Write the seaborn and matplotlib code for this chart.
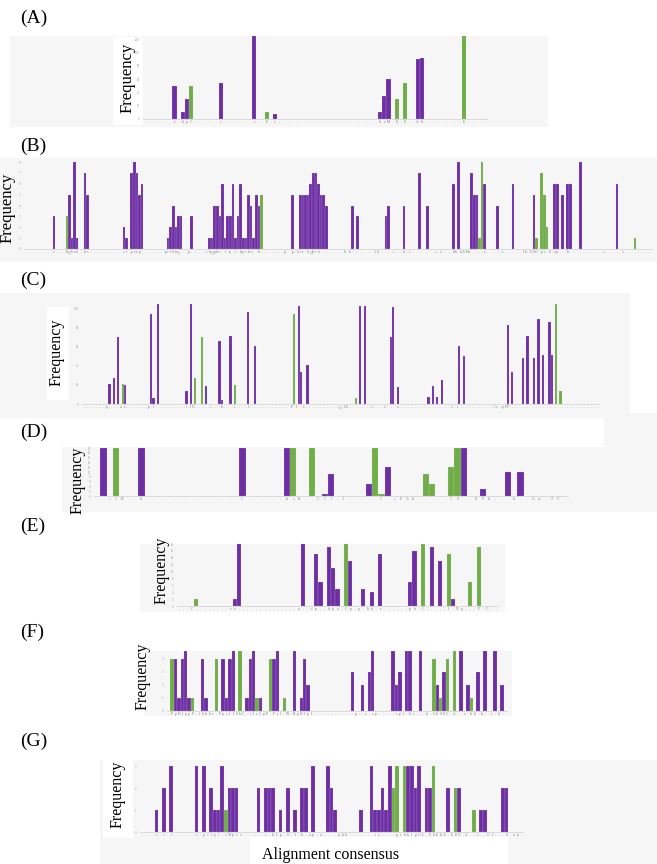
import matplotlib
matplotlib.use('Agg')
import pandas as pd
import matplotlib.pyplot as plt
from matplotlib.patches import Rectangle
import seaborn as sns

PURPLE = '#6d2ea3'
GREEN = '#70ad47'
GRAY = '#f6f6f6'
W, H = 657, 864

# (A)
a_n = 82
a_pos = [7, 9, 10, 11, 18, 26, 29, 31, 56, 57, 58, 60, 62, 65, 66, 76]
a_val = [50, 10, 30, 50, 54, 124, 10, 7, 10, 35, 60, 30, 54, 90, 91, 124]
a_green = [11, 29, 60, 62, 76]
a_consensus = '.......v.hpC......s.......s..E.v........................hsM.E.E..Ah.........E.....'

# (B)
b_n = 242
b_pos = [11, 16, 17, 18, 19, 20, 23, 24, 38, 39, 41, 42, 43, 44, 45,
         55, 56, 57, 58, 59, 60, 64,
         71, 72, 73, 74, 75, 76, 77, 78, 79, 80, 81, 82, 83, 84, 85, 86, 87, 88, 89, 90, 91,
         103, 106, 107, 108, 109, 110, 111, 112, 113, 114, 115, 116,
         126, 128, 139, 140, 146, 152, 155, 165, 167, 172, 173, 174, 175, 176, 177,
         182, 188, 196, 197, 199, 200, 201, 204, 205, 207, 209, 210, 214, 228, 235]
b_val = [3, 3, 5, 1, 8, 1, 7, 5, 2, 1, 7, 8, 7, 5, 6,
         1, 2, 4, 2, 3, 3, 3,
         1, 1, 4, 4, 3, 6, 1, 3, 3, 6, 1, 3, 6, 1, 1, 5, 4, 1, 5, 4, 5,
         5, 5, 5, 5, 5, 6, 7, 7, 6, 5, 5, 4,
         4, 3, 3, 4, 4, 7, 4, 6, 8, 7, 5, 5, 1, 8, 6,
         4, 6, 5, 1, 7, 5, 2, 6, 6, 5, 6, 6, 8, 6, 1]
b_green = [16, 91, 175, 176, 197, 199, 200, 201, 235]
b_consensus = ('...........c....hQhsh..hs.............sl.pssp.........pclhhQ...p......'
               'shQpht.l.p.l.hpshs..h.........p..p.hss.hQhth.........h.h.........lh...'
               '..s...h.s.........s.s....hh.hhhh.....s......s.......lh.GGG.ps.h.sp...h.'
               '............s......s')

# (C)
c_n = 235
c_pos = [12, 14, 16, 18, 19, 31, 32, 34, 47, 49, 51, 54, 56, 62, 63, 67, 69, 75, 78,
         96, 98, 99, 102, 124, 126, 128, 140, 141, 143, 157, 159, 161, 163, 171, 173,
         193, 195, 200, 202, 205, 207, 209, 212, 213, 215, 217]
c_val = [21, 27, 70, 21, 20, 95, 6, 105, 14, 105, 27, 70, 19, 66, 4, 72, 20, 97, 61,
         95, 103, 34, 41, 6, 103, 103, 70, 102, 18, 7, 19, 7, 25, 61, 50,
         83, 34, 48, 72, 48, 89, 52, 86, 52, 105, 14]
c_green = [18, 51, 54, 69, 96, 124, 215, 217]
c_consensus = ('...........p.....a.s..........p.l..............l.lD.......s....h.....t.....'
               'l...................P.l..s................Q.lh..........s.....v.....a.....'
               '...................t.t................ls..pPP......')

# (D)
d_n = 75
d_pos = [1, 3, 7, 23, 30, 31, 34, 36, 37, 43, 44, 45, 46, 52, 53, 56, 57, 58, 61, 65, 67]
d_val = [20, 20, 20, 20, 20, 20, 20, 1, 9, 5, 20, 1, 12, 9, 5, 12, 20, 20, 3, 10, 10]
d_green = [3, 31, 34, 44, 45, 52, 53, 56, 57]
d_consensus = '..cCH..h...............C......hsK..CCl.l.....C.cPGh.....CS..EPh...h..Gw.TT'

# (E)
e_n = 75
e_pos = [4, 13, 14, 29, 32, 33, 35, 36, 37, 39, 40, 43, 45, 47, 54, 55, 57, 59, 61, 63, 64, 68, 70]
e_val = [2, 2, 18, 18, 15, 7, 17, 11, 5, 18, 13, 5, 4, 15, 7, 16, 18, 17, 13, 15, 2, 7, 17]
e_green = [4, 39, 57, 63, 68, 70]
e_consensus = '...C........ss..............a..cp..hpa.Cp.p.hh.s......ph.C.....l.Np...P.C'

# (F)
f_n = 100
f_pos = [1, 2, 3, 4, 5, 6, 7, 10, 11, 14, 16, 17, 18, 19, 21, 23, 24, 25, 26, 27,
         30, 31, 32, 34, 37, 39, 40, 41, 54, 57, 59, 60, 66, 67, 68, 70, 71, 74,
         78, 79, 80, 81, 82, 84, 86, 88, 89, 91, 93, 96, 98]
f_val = [4, 4, 1, 4, 4.6, 1, 1, 4, 1, 4, 4, 1, 4, 4.6, 4.6, 1, 4, 4.6, 1, 1,
         4, 4, 4.6, 1, 4.6, 1, 4, 2, 3, 2, 3, 4.6, 4.6, 2, 3, 4.6, 4.6, 4.6,
         4, 2, 1, 3, 4, 4.6, 4.6, 2, 1, 3, 4.6, 4.6, 2]
f_green = [1, 7, 14, 21, 26, 30, 34, 78, 80, 82, 84, 89]
f_consensus = ('.PpHlppP.ihhhs.PpsllhhC.slcCpP.Pcl.W.RpHlpl............p..s.sp.....cpl.hs...'
               'h.ChSSC.A..s.hh.h..t.h')

# (G)
g_n = 105
g_pos = [4, 6, 8, 15, 17, 19, 20, 21, 22, 23, 24, 25, 26,
         32, 34, 35, 36, 38, 40, 42, 44, 45, 47, 51, 52, 53,
         60, 63, 64, 65, 66, 67, 68, 69, 70, 72, 73, 74, 75, 76, 78, 79, 80,
         84, 86, 87, 91, 93, 94, 99, 100]
g_val = [1, 2, 3, 3, 3, 2, 1, 1, 3, 1, 2, 2, 2,
         2, 2, 2, 2, 1, 2, 1, 2, 2, 3, 3, 2, 1,
         1, 3, 1, 1, 2, 1, 3, 2, 3, 3, 3, 3, 2, 3, 2, 2, 3,
         2, 2, 2, 1, 1, 1, 2, 2]
g_green = [23, 69, 70, 72, 80, 86, 91]
g_consensus = ('....s.c.l......s.pclpl.sWpss......s.hlp.G.l.h.ap.a....phh.......ts....pshhlpGL.'
               'PhhhL.hhV.A..s..Gl...S.ap....sp')

sns.set_theme(style='white')
plt.rcParams['font.family'] = ['Liberation Serif', 'DejaVu Serif']

fig = plt.figure(figsize=(W / 100, H / 100), dpi=100, facecolor='white')


def frac(x0, y0, x1, y1):
    return [x0 / W, 1 - y1 / H, (x1 - x0) / W, (y1 - y0) / H]


def box(x0, y0, x1, y1, color, z=-5):
    l, b, w, h = frac(x0, y0, x1, y1)
    fig.add_artist(Rectangle((l, b), w, h, transform=fig.transFigure,
                             facecolor=color, edgecolor='none', zorder=z))


def label(x, y, s, size, rot=0, ha='center'):
    fig.text(x / W, 1 - y / H, s, fontsize=size, rotation=rot, ha=ha, va='center',
             color='black')


def panel(rect, pos, val, green, n, ymax, yticks, consensus):
    ax = fig.add_axes(frac(*rect))
    kind = ['g' if p in green else 'p' for p in pos]
    df = pd.DataFrame({'pos': pos, 'val': val, 'kind': kind})
    sns.barplot(data=df, x='pos', y='val', hue='kind', order=list(range(n)),
                hue_order=['p', 'g'], palette={'p': PURPLE, 'g': GREEN},
                dodge=False, width=1, errorbar=None, legend=False,
                edgecolor='#e6dcef', linewidth=0.12, saturation=1, ax=ax)
    ax.set_facecolor(GRAY)
    ax.set_xlim(-0.5, n - 0.5)
    ax.set_ylim(0, ymax)
    ax.set_xticks(range(n))
    ax.set_xticklabels(list(consensus.ljust(n, '.')[:n]))
    ax.set_yticks(yticks)
    ax.tick_params(axis='x', length=0, labelsize=2.6, labelcolor='#777777', pad=1)
    ax.tick_params(axis='y', length=1.5, width=0.3, color='#cccccc', labelsize=2.2,
                   labelcolor='#999999', pad=1)
    for s in ['top', 'right', 'left']:
        ax.spines[s].set_visible(False)
    ax.spines['bottom'].set_color('#d5d5d5')
    ax.spines['bottom'].set_linewidth(0.6)
    ax.set_xlabel('')
    ax.set_ylabel('')
    return ax


# background boxes
box(10, 36, 548, 127, GRAY)
box(0, 158, 657, 262, GRAY)
box(0, 293, 630, 418, GRAY)
box(62, 447, 657, 512, GRAY)
box(604, 413, 657, 447, GRAY)
box(140, 544, 505, 612, GRAY)
box(145, 651, 512, 716, GRAY)
box(100, 760, 657, 864, GRAY)
box(113, 37, 143, 125, 'white', -4)
box(47, 307, 69, 400, 'white', -4)
box(103, 760, 133, 838, 'white', -4)
box(250, 837, 508, 864, 'white', -4)

panel((143, 35.7, 487, 119), a_pos, a_val, a_green, a_n, 125, range(0, 121, 20), a_consensus)
panel((24, 162, 652, 249), b_pos, b_val, b_green, b_n, 8, range(0, 9), b_consensus)
panel((82, 294.7, 599, 404), c_pos, c_val, c_green, c_n, 115, range(0, 101, 20), c_consensus)
panel((94, 448, 568, 496), d_pos, d_val, d_green, d_n, 20, range(0, 21, 2), d_consensus)
panel((177, 544, 498, 606), e_pos, e_val, e_green, e_n, 18, range(0, 19, 2), e_consensus)
panel((167, 651, 507, 711), f_pos, f_val, f_green, f_n, 4.6, range(0, 5), f_consensus)
panel((140, 766, 523, 832), g_pos, g_val, g_green, g_n, 3, range(0, 4), g_consensus)

for s, y in [('(A)', 18), ('(B)', 146), ('(C)', 280), ('(D)', 432),
             ('(E)', 526), ('(F)', 632), ('(G)', 741)]:
    label(20, y, s, 14, ha='left')

for x, y, sz in [(128, 78, 12), (8, 208, 12), (57, 352, 11.5), (78, 480, 11.5),
                 (162, 570, 11.5), (143, 676, 11.5), (118, 794, 11.5)]:
    label(x, y, 'Frequency', sz, rot=90)

label(331, 855, 'Alignment consensus', 11.5)

fig.savefig('out.png', dpi=100, facecolor='white')
